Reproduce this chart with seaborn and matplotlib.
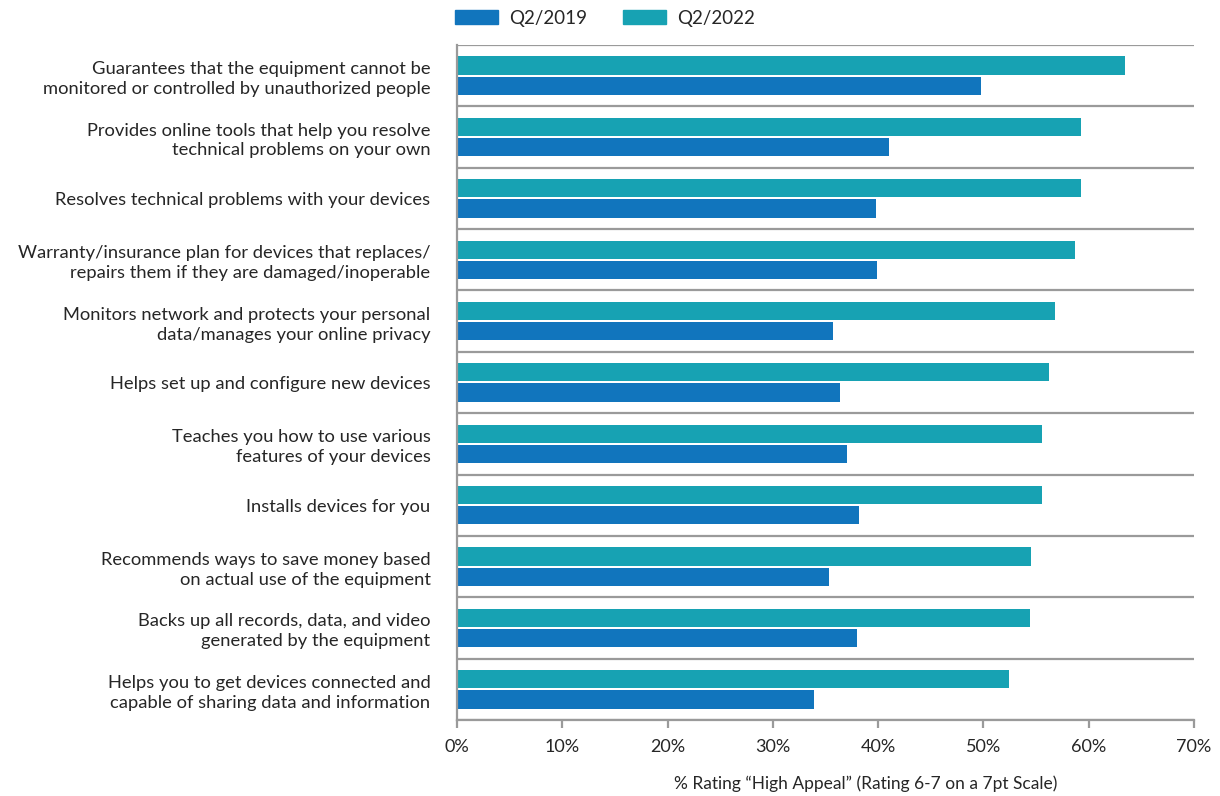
import numpy as np
import pandas as pd
import matplotlib
matplotlib.use("Agg")
import matplotlib.pyplot as plt
import seaborn as sns
from matplotlib.patches import Patch
from matplotlib.ticker import FuncFormatter, MultipleLocator

# 카테고리 / 값 (그림에서 읽은 값, %)
features = [
    "Guarantees that the equipment cannot be\nmonitored or controlled by unauthorized people",
    "Provides online tools that help you resolve\ntechnical problems on your own",
    "Resolves technical problems with your devices",
    "Warranty/insurance plan for devices that replaces/\nrepairs them if they are damaged/inoperable",
    "Monitors network and protects your personal\ndata/manages your online privacy",
    "Helps set up and configure new devices",
    "Teaches you how to use various\nfeatures of your devices",
    "Installs devices for you",
    "Recommends ways to save money based\non actual use of the equipment",
    "Backs up all records, data, and video\ngenerated by the equipment",
    "Helps you to get devices connected and\ncapable of sharing data and information",
]
q2_2022 = [63.4, 59.3, 59.3, 58.7, 56.8, 56.2, 55.6, 55.6, 54.5, 54.4, 52.4]
q2_2019 = [49.8, 41.0, 39.8, 39.9, 35.7, 36.4, 37.0, 38.2, 35.3, 38.0, 33.9]
series = ["Q2/2022", "Q2/2019"]
colors = {"Q2/2022": "#17a2b3", "Q2/2019": "#1175bd"}

df = pd.DataFrame({"feature": features, "Q2/2022": q2_2022, "Q2/2019": q2_2019})
long_df = df.melt(id_vars="feature", var_name="period", value_name="pct")

sns.set_style("white")
plt.rcParams["font.family"] = ["Lato", "DejaVu Sans"]

fig = plt.figure(figsize=(12.2, 7.96), dpi=100)
ax = fig.add_axes([0.3746, 0.0955, 0.6041, 0.848])

sns.barplot(data=long_df, y="feature", x="pct", hue="period", hue_order=series,
            order=features, palette=colors, orient="h", width=0.66, gap=0.1,
            saturation=1, edgecolor="none", ax=ax, legend=False)

ax.set_xlim(0, 70)
ax.set_ylim(len(features) - 0.5, -0.5)
ax.xaxis.set_major_locator(MultipleLocator(10))
ax.xaxis.set_major_formatter(FuncFormatter(lambda v, p: f"{v:.0f}%"))

# 카테고리 구분선
ax.set_yticks(np.arange(-0.5, len(features), 1), minor=True)
ax.grid(which="minor", axis="y", color="#9a9a9a", linewidth=1.6)
ax.grid(which="major", visible=False)
ax.tick_params(axis="y", which="both", length=0, labelsize=13.2, pad=19)
for lbl in ax.get_yticklabels():
    lbl.set_linespacing(1.3)
ax.tick_params(axis="x", which="major", bottom=True, length=6, width=1.6, color="#9a9a9a",
               direction="out", labelsize=13, pad=8)

for s in ["top", "right"]:
    ax.spines[s].set_visible(False)
for s in ["left", "bottom"]:
    ax.spines[s].set_color("#9a9a9a")
    ax.spines[s].set_linewidth(1.6)

ax.set_ylabel("")
ax.set_xlabel("% Rating \u201cHigh Appeal\u201d (Rating 6-7 on a 7pt Scale)", fontsize=12.5)
ax.xaxis.set_label_coords(0.555, -0.082)

handles = [Patch(color=colors["Q2/2019"]), Patch(color=colors["Q2/2022"])]
fig.legend(handles, ["Q2/2019", "Q2/2022"], loc="center", bbox_to_anchor=(0.496, 0.977),
           ncol=2, frameon=False, fontsize=13.5, handlelength=2.3, handleheight=0.75,
           columnspacing=1.9, handletextpad=0.6)

fig.savefig("out.png", dpi=100)
